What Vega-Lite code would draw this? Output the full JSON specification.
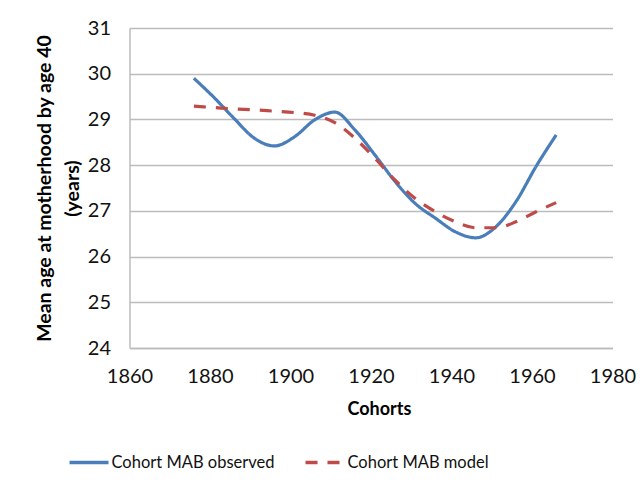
{
  "$schema": "https://vega.github.io/schema/vega-lite/v6.json",
  "width": 483,
  "height": 320,
  "autosize": {"type": "none"},
  "padding": {"left": 129.5, "top": 28, "right": 29.5, "bottom": 138},
  "background": "white",
  "config": {
    "view": {"stroke": null},
    "font": "Lato",
    "axis": {"labelFont": "Lato", "titleFont": "Lato", "labelColor": "#111111", "titleColor": "#000000"}
  },
  "data": {
    "values": [
      {"year": 1876, "value": 29.90, "series": "Cohort MAB observed"},
      {"year": 1881, "value": 29.48, "series": "Cohort MAB observed"},
      {"year": 1886, "value": 29.02, "series": "Cohort MAB observed"},
      {"year": 1891, "value": 28.59, "series": "Cohort MAB observed"},
      {"year": 1896, "value": 28.42, "series": "Cohort MAB observed"},
      {"year": 1901, "value": 28.62, "series": "Cohort MAB observed"},
      {"year": 1906, "value": 28.99, "series": "Cohort MAB observed"},
      {"year": 1911, "value": 29.16, "series": "Cohort MAB observed"},
      {"year": 1916, "value": 28.77, "series": "Cohort MAB observed"},
      {"year": 1921, "value": 28.22, "series": "Cohort MAB observed"},
      {"year": 1926, "value": 27.64, "series": "Cohort MAB observed"},
      {"year": 1931, "value": 27.16, "series": "Cohort MAB observed"},
      {"year": 1936, "value": 26.84, "series": "Cohort MAB observed"},
      {"year": 1941, "value": 26.54, "series": "Cohort MAB observed"},
      {"year": 1946, "value": 26.41, "series": "Cohort MAB observed"},
      {"year": 1951, "value": 26.65, "series": "Cohort MAB observed"},
      {"year": 1956, "value": 27.20, "series": "Cohort MAB observed"},
      {"year": 1961, "value": 27.97, "series": "Cohort MAB observed"},
      {"year": 1966, "value": 28.66, "series": "Cohort MAB observed"},
      {"year": 1876, "value": 29.29, "series": "Cohort MAB model"},
      {"year": 1881, "value": 29.26, "series": "Cohort MAB model"},
      {"year": 1886, "value": 29.23, "series": "Cohort MAB model"},
      {"year": 1891, "value": 29.21, "series": "Cohort MAB model"},
      {"year": 1896, "value": 29.18, "series": "Cohort MAB model"},
      {"year": 1901, "value": 29.15, "series": "Cohort MAB model"},
      {"year": 1906, "value": 29.09, "series": "Cohort MAB model"},
      {"year": 1911, "value": 28.93, "series": "Cohort MAB model"},
      {"year": 1916, "value": 28.59, "series": "Cohort MAB model"},
      {"year": 1921, "value": 28.15, "series": "Cohort MAB model"},
      {"year": 1926, "value": 27.67, "series": "Cohort MAB model"},
      {"year": 1931, "value": 27.27, "series": "Cohort MAB model"},
      {"year": 1936, "value": 26.98, "series": "Cohort MAB model"},
      {"year": 1941, "value": 26.76, "series": "Cohort MAB model"},
      {"year": 1946, "value": 26.63, "series": "Cohort MAB model"},
      {"year": 1951, "value": 26.63, "series": "Cohort MAB model"},
      {"year": 1956, "value": 26.76, "series": "Cohort MAB model"},
      {"year": 1961, "value": 26.98, "series": "Cohort MAB model"},
      {"year": 1966, "value": 27.18, "series": "Cohort MAB model"}
    ]
  },
  "mark": {"type": "line", "interpolate": "monotone", "strokeWidth": 3.2, "strokeCap": "butt"},
  "encoding": {
    "x": {
      "field": "year", "type": "quantitative",
      "scale": {"domain": [1860, 1980], "nice": false, "zero": false},
      "axis": {
        "values": [1860, 1880, 1900, 1920, 1940, 1960, 1980],
        "format": "d", "grid": false, "ticks": false, "labelFlush": false,
        "domain": true, "domainColor": "#bcbcbc", "domainWidth": 1.5,
        "labelFontSize": 20, "labelPadding": 18,
        "title": "Cohorts", "titleFontSize": 18, "titleFontWeight": "bold",
        "titleX": 249.5, "titleY": 66, "titleBaseline": "alphabetic", "titleAlign": "center"
      }
    },
    "y": {
      "field": "value", "type": "quantitative",
      "scale": {"domain": [24, 31], "nice": false, "zero": false},
      "axis": {
        "values": [24, 25, 26, 27, 28, 29, 30, 31],
        "grid": true, "gridColor": "#bcbcbc", "gridWidth": 1.5,
        "ticks": false, "domain": true, "domainColor": "#bcbcbc", "domainWidth": 1.5,
        "labelFontSize": 20, "labelPadding": 19, "labelFlush": false,
        "title": ["Mean age at motherhood by age 40", "(years)"],
        "titleFontSize": 19.5, "titleFontWeight": "bold", "titleLineHeight": 28,
        "titleAngle": -90, "titleX": -94, "titleY": 160,
        "titleAlign": "center", "titleBaseline": "top"
      }
    },
    "color": {
      "field": "series", "type": "nominal",
      "scale": {"domain": ["Cohort MAB observed", "Cohort MAB model"], "range": ["#4A7EBB", "#BE4B48"]},
      "legend": {
        "title": null, "orient": "none", "direction": "horizontal",
        "legendX": -62, "legendY": 413,
        "symbolType": "stroke", "symbolSize": 1521, "symbolStrokeWidth": 3.5,
        "labelFontSize": 16.5, "labelFont": "Lato", "labelColor": "#111111", "labelLimit": 0,
        "labelOffset": 1, "columnPadding": 24
      }
    },
    "strokeDash": {
      "field": "series", "type": "nominal",
      "scale": {"domain": ["Cohort MAB observed", "Cohort MAB model"], "range": [[1, 0], [12, 10]]},
      "legend": null
    }
  }
}
